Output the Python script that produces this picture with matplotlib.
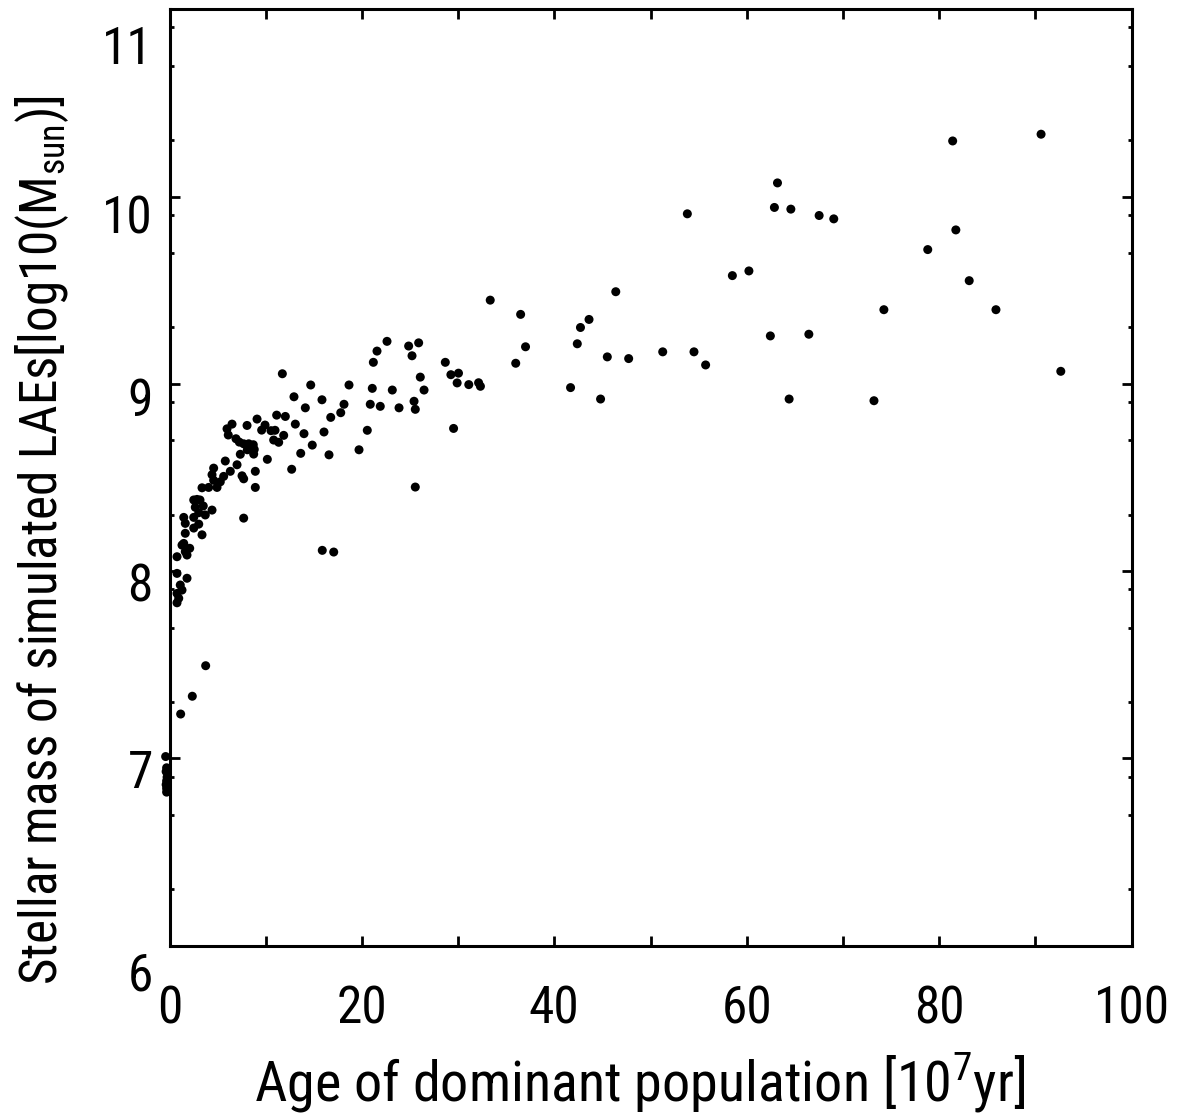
import os
import matplotlib
matplotlib.use("Agg")
import matplotlib.pyplot as plt
from matplotlib import font_manager as fm
from matplotlib.font_manager import FontProperties
from matplotlib.transforms import ScaledTranslation
import numpy as np

# ---- data (age in 1e7 yr, stellar mass in log10 Msun) ----
age_old = [90.60, 81.41, 63.20, 53.83, 62.88, 64.59, 67.53, 69.05, 81.74, 78.82,
           83.13, 85.91, 74.26, 58.51, 60.23, 62.46, 66.46, 64.41, 73.23, 92.65,
           46.39, 43.61, 42.72, 42.39, 45.51, 47.73, 51.27, 54.52, 55.73, 44.81,
           41.69, 33.34, 36.50, 37.01, 35.99, 30.04, 29.25, 29.90, 31.11, 32.13,
           32.32, 29.53]
mass_old = [10.333, 10.297, 10.073, 9.908, 9.942, 9.933, 9.899, 9.881, 9.822, 9.717,
            9.551, 9.396, 9.396, 9.578, 9.603, 9.256, 9.265, 8.919, 8.910, 9.067,
            9.492, 9.344, 9.301, 9.214, 9.144, 9.135, 9.171, 9.171, 9.101, 8.919,
            8.980, 9.447, 9.371, 9.198, 9.110, 9.057, 9.049, 9.005, 8.996, 9.006,
            8.987, 8.762]

age_mid = [22.61, 24.86, 25.90, 25.21, 21.57, 21.19, 28.67, 26.07, 26.46, 25.42,
           25.55, 25.55, 11.73, 14.68, 18.66, 21.08, 23.16, 23.86, 20.87, 21.91,
           15.85, 18.14, 17.80, 16.76, 14.12, 12.94, 13.08, 13.98, 16.06, 14.84,
           13.64, 16.58, 20.56, 19.70, 15.88, 17.07]
mass_mid = [9.227, 9.202, 9.219, 9.150, 9.175, 9.115, 9.115, 9.036, 8.967, 8.907,
            8.864, 8.449, 9.054, 8.994, 8.994, 8.976, 8.967, 8.872, 8.891, 8.880,
            8.915, 8.891, 8.846, 8.821, 8.872, 8.931, 8.785, 8.734, 8.743, 8.673,
            8.629, 8.621, 8.752, 8.648, 8.111, 8.102]

age_young = [11.14, 12.04, 9.10, 8.06, 6.50, 5.98, 6.11, 6.91, 7.26, 7.71,
             8.23, 8.71, 8.81, 8.09, 7.36, 8.75, 10.17, 7.02, 5.80, 4.59,
             4.42, 5.63, 6.32, 7.54, 7.71, 8.92, 8.92, 7.71, 12.70, 9.58,
             9.93, 10.55, 10.97, 10.83, 11.35, 11.87, 4.07, 4.94, 4.59, 5.28,
             3.38, 2.86, 2.52, 3.17, 3.51, 4.42, 3.04, 2.68, 3.72, 2.52,
             3.04, 2.52, 3.38, 1.48, 1.64, 1.64, 1.48, 2.10, 1.82, 1.30,
             1.64, 0.78, 0.78, 1.82, 1.12, 1.30, 0.78, 0.96, 0.78,
             3.76, 2.37, 1.16]
mass_young = [8.833, 8.826, 8.812, 8.778, 8.785, 8.760, 8.727, 8.707, 8.689, 8.680,
              8.680, 8.675, 8.650, 8.648, 8.624, 8.625, 8.597, 8.568, 8.588, 8.550,
              8.515, 8.506, 8.533, 8.509, 8.493, 8.533, 8.447, 8.283, 8.544, 8.753,
              8.780, 8.750, 8.752, 8.700, 8.688, 8.725, 8.447, 8.447, 8.485, 8.477,
              8.445, 8.383, 8.380, 8.380, 8.348, 8.326, 8.312, 8.341, 8.300, 8.287,
              8.251, 8.230, 8.194, 8.287, 8.255, 8.202, 8.148, 8.122, 8.086, 8.139,
              8.104, 8.077, 7.988, 7.962, 7.926, 7.899, 7.881, 7.855, 7.831,
              7.495, 7.332, 7.237]

age_zero = [-0.40, -0.30, -0.35, -0.25, -0.30, -0.35, -0.30, -0.30]
mass_zero = [7.01, 6.95, 6.93, 6.90, 6.88, 6.86, 6.84, 6.82]

x_ticks = [0, 10, 20, 30, 40, 50, 60, 70, 80, 90, 100]
x_ticklabels = ["0", "", "20", "", "40", "", "60", "", "80", "", "100"]
y_ticks = [6, 7, 8, 9, 10, 11]
y_ticklabels = ["6", "7", "8", "9", "10", "11"]
x_title = r"Age of dominant population [10$^{\mathdefault{7}}$yr]"
y_title = r"Stellar mass of simulated LAEs[log10(M$_{\mathdefault{sun}}$)]"

# ---- fonts ----
plt.rcParams["font.family"] = ["Liberation Sans", "DejaVu Sans"]


def find_narrow():
    prefs = ["liberation sans narrow", "arial narrow", "roboto condensed",
             "noto sans", "open sans", "roboto"]
    found = {}
    for f in fm.fontManager.ttflist:
        base = os.path.basename(f.fname).lower()
        name = f.name.lower()
        if f.style != "normal":
            continue
        if any(k in base for k in ("bold", "italic", "light", "medium", "thin",
                                   "black", "semi", "extra", "oblique")):
            continue
        narrow = ("narrow" in name or "narrow" in base or
                  ("condensed" in base and "semicondensed" not in base))
        if not narrow:
            continue
        for p in prefs:
            if name.startswith(p):
                found.setdefault(p, f.fname)
    for p in prefs:
        if p in found:
            return found[p]
    return None


narrow_file = find_narrow()
if narrow_file:
    tick_fp = FontProperties(fname=narrow_file, size=37)
    label_fp = FontProperties(fname=narrow_file, size=40)
else:
    tick_fp = FontProperties(family=["Liberation Sans"], size=33)
    label_fp = FontProperties(family=["Liberation Sans"], size=36)

W, H = 1178, 1120
fig = plt.figure(figsize=(W / 100, H / 100), dpi=100)
L, R, B, T = 169.5, 1131.5, 945.7, 9.3
ax = fig.add_axes([L / W, 1 - B / H, (R - L) / W, (B - T) / H])

age = age_old + age_mid + age_young + age_zero
mass = mass_old + mass_mid + mass_young + mass_zero
ax.scatter(age, mass, s=42, c="black", edgecolors="none", clip_on=False, zorder=3)

ax.set_xlim(0, 100)
ax.set_ylim(6, 11)
ax.set_xticks(x_ticks)
ax.set_xticklabels(x_ticklabels, fontproperties=tick_fp)
ax.set_yticks(y_ticks)
ax.set_yticklabels(y_ticklabels, fontproperties=tick_fp)
minor = [n + np.log10(k) for n in range(6, 11) for k in (2, 5, 8)]
ax.set_yticks(minor, minor=True)
ax.xaxis.set_minor_locator(matplotlib.ticker.NullLocator())

for sp in ax.spines.values():
    sp.set_linewidth(2.2)

ax.tick_params(axis="both", which="major", direction="in", length=7.2, width=2.0,
               top=True, right=True)
ax.tick_params(axis="x", which="major", pad=28)
ax.tick_params(axis="y", which="major", pad=12)
ax.tick_params(axis="y", which="minor", direction="in", length=2.9, width=2.0,
               left=True, right=True)

# vertical offsets of y tick labels (px downward)
dy = {6: 25, 7: 10, 8: 11, 9: 13, 10: 17, 11: 35}
for lab, v in zip(ax.get_yticklabels(), y_ticks):
    lab.set_transform(lab.get_transform() +
                      ScaledTranslation(0, -dy[v] / 100, fig.dpi_scale_trans))

xl = ax.set_xlabel(x_title, fontproperties=label_fp, va="baseline")
ax.xaxis.set_label_coords(0.489, -0.1648)
yl = ax.set_ylabel(y_title, fontproperties=label_fp)
yl.set_va("center")
ax.yaxis.set_label_coords(-0.1325, 0.433)

# fit the axis titles to the extents they have in the reference
for _ in range(2):
    fig.canvas.draw()
    r = fig.canvas.get_renderer()
    wx = xl.get_window_extent(r).width
    hy = yl.get_window_extent(r).height
    xl.set_fontsize(xl.get_fontsize() * 770.0 / wx)
    yl.set_fontsize(yl.get_fontsize() * 890.0 / hy)

fig.savefig("out.png", dpi=100)
